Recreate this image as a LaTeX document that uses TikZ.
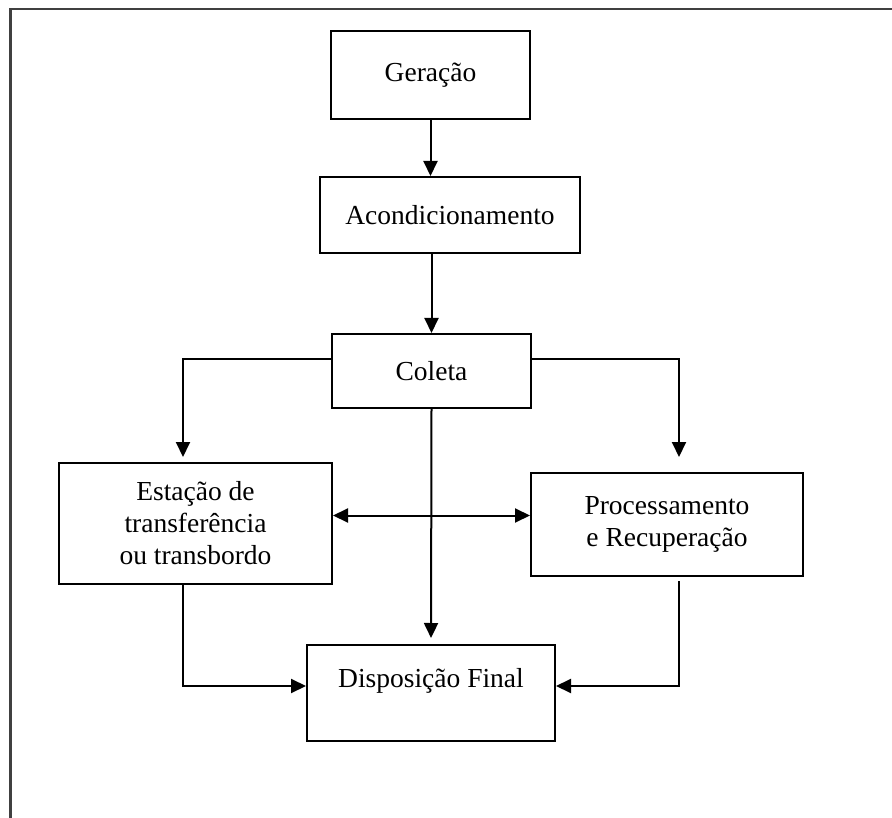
\documentclass[tikz,border=0pt]{standalone}
\usepackage{fontspec}
\setmainfont{Liberation Serif}
\usetikzlibrary{arrows.meta, calc}

\tikzset{
    etapa/.style={draw, line width=2pt, align=center, inner sep=0pt,
        font=\fontsize{27.5}{32}\selectfont},
    seta/.style={line width=2pt, -{Triangle[length=15pt, width=14pt]}},
    linha/.style={line width=2pt}
}

\begin{document}
\begin{tikzpicture}[x=1pt, y=-1pt]

    % === Page frame ===
    \useasboundingbox (0,0) rectangle (892,818);
    \draw[line width=2.2pt, black!75] (10.5,818) -- (10.5,9) -- (892,9);

    % === Stages ===
    \node[etapa, minimum width=199pt, minimum height=88pt] (gera) at (430.5,75) {Geração};
    \node[etapa, minimum width=260pt, minimum height=76pt] (acond) at (450,215) {Acondicionamento};
    \node[etapa, minimum width=199pt, minimum height=74pt] (coleta) at (431.5,371) {Coleta};
    \node[etapa, minimum width=273pt, minimum height=121pt] (estacao) at (195.5,523.5)
    {Estação de\\transferência\\ou transbordo};
    \node[etapa, minimum width=272pt, minimum height=103pt] (proc) at (667,524.5)
    {Processamento\\e Recuperação};
    % text sits high in this box
    \node[etapa, minimum width=248pt, text height=42pt, text depth=54pt, anchor=north]
    (disp) at (431,644) {Disposição Final};

    % === Main line ===
    \draw[seta] (gera.south) -- (gera.south |- acond.north);
    \draw[seta] (coleta.north |- acond.south) -- (coleta.north);
    \draw[seta, shorten >=6pt] (coleta.south) -- (disp.north);

    % === Branches from Coleta ===
    \draw[seta, shorten >=5pt] ([yshift=12pt]coleta.west) -| ([xshift=-12.5pt]estacao.north);
    \draw[seta, shorten >=15pt] ([yshift=12pt]coleta.east) -| ([xshift=12pt]proc.north);

    % === Between Estação and Processamento ===
    \draw[seta, {Triangle[length=15pt, width=14pt]}-{Triangle[length=15pt, width=14pt]}]
    ([yshift=8pt]estacao.east) -- ([yshift=8pt]estacao.east -| proc.west);

    % === To Disposição Final ===
    \draw[seta] ([xshift=-12.5pt]estacao.south) |- ([yshift=7pt]disp.west);
    \draw[seta] ([xshift=12pt, yshift=-4pt]proc.south) |- ([yshift=7pt]disp.east);

\end{tikzpicture}
\end{document}
